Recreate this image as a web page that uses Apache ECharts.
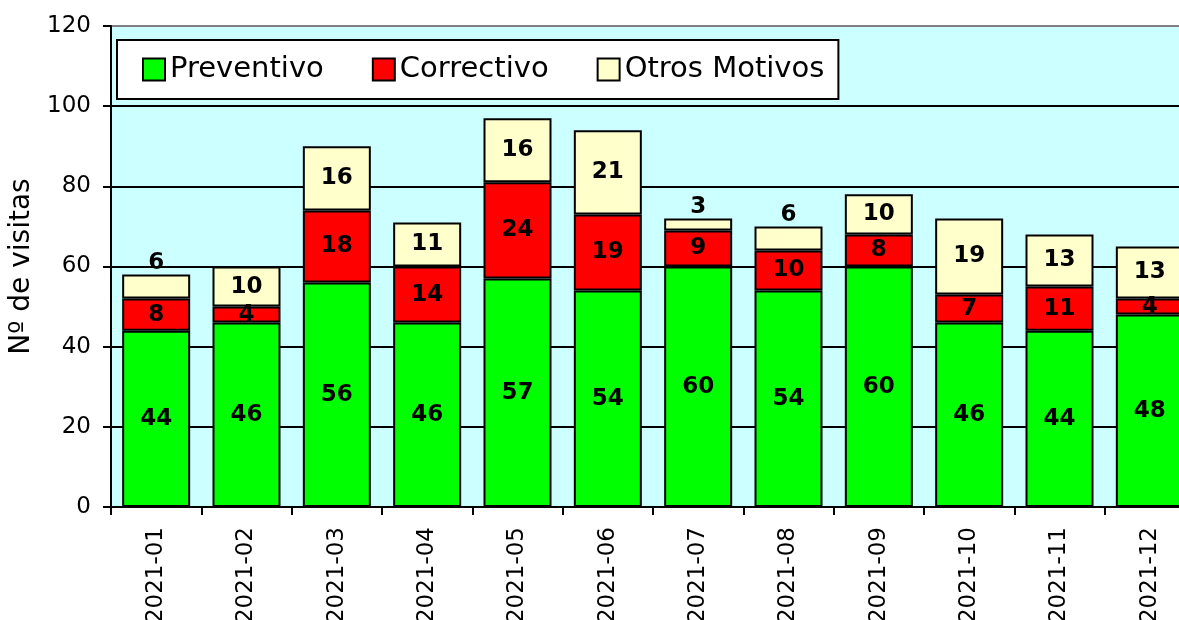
<!DOCTYPE html>
<html><head><meta charset="utf-8">
<script src="https://cdn.jsdelivr.net/npm/echarts@6/dist/echarts.min.js"></script>
<style>html,body{margin:0;padding:0;background:#fff}#c{width:1179px;height:620px}</style>
</head><body><div id="c"></div>
<script>
const categories = ['2021-01','2021-02','2021-03','2021-04','2021-05','2021-06','2021-07','2021-08','2021-09','2021-10','2021-11','2021-12'];
const preventivo = [44,46,56,46,57,54,60,54,60,46,44,48];
const correctivo = [8,4,18,14,24,19,9,10,8,7,11,4];
const otros = [6,10,16,11,16,21,3,6,10,19,13,13];
const yTicks = [0,20,40,60,80,100,120];

const FONT = '"DejaVu Sans", "Noto Sans", sans-serif';
const labelBase = {show:true, position:'inside', color:'#000', fontWeight:'bold', fontSize:23, fontFamily:FONT};
function mk(name, data, color, smallTop){
  return {
    name, type:'bar', stack:'s', barWidth:68,
    itemStyle:{color, borderColor:'#000', borderWidth:2},
    label:labelBase,
    data: data.map(v => (smallTop && v <= 6) ? {value:v, label:{position:'top', distance:0}} : v)
  };
}
const chart = echarts.init(document.getElementById('c'));
chart.setOption({
  animation:false,
  backgroundColor:'#fff',
  grid:{left:111, width:1084, top:26, height:481, outerBoundsMode:'none', containLabel:false,
    show:true, backgroundColor:'#CCFFFF', borderColor:'#808080', borderWidth:2},
  legend:{
    left:117, top:40, width:718, height:59, padding:[15,14,15,25],
    backgroundColor:'#fff', borderColor:'#000', borderWidth:2,
    icon:'rect', itemWidth:22, itemHeight:22, itemGap:48,
    textStyle:{fontSize:29, fontFamily:FONT, color:'#000'},
    itemStyle:{borderColor:'#000', borderWidth:2},
    data:['Preventivo','Correctivo','Otros Motivos']
  },
  xAxis:{
    type:'category', data:categories,
    axisLine:{lineStyle:{color:'#000', width:2}},
    axisTick:{show:true, length:8, lineStyle:{color:'#000', width:2}},
    axisLabel:{rotate:90, fontSize:23, fontFamily:FONT, color:'#000', margin:20}
  },
  yAxis:{
    type:'value', min:0, max:120, interval:20,
    name:'Nº de visitas', nameLocation:'middle', nameGap:74,
    nameTextStyle:{fontSize:28, fontFamily:FONT, color:'#000'},
    axisLine:{show:true, lineStyle:{color:'#000', width:2}},
    axisTick:{show:true, length:8, lineStyle:{color:'#000', width:2}},
    axisLabel:{fontSize:23, fontFamily:FONT, color:'#000', margin:20,
      formatter: v => yTicks.includes(v) ? String(v) : ''},
    splitLine:{show:true, showMaxLine:false, lineStyle:{color:'#000', width:2}}
  },
  series:[
    mk('Preventivo', preventivo, '#00FF00', false),
    mk('Correctivo', correctivo, '#FF0000', false),
    mk('Otros Motivos', otros, '#FFFFCC', true)
  ]
});
</script></body></html>
